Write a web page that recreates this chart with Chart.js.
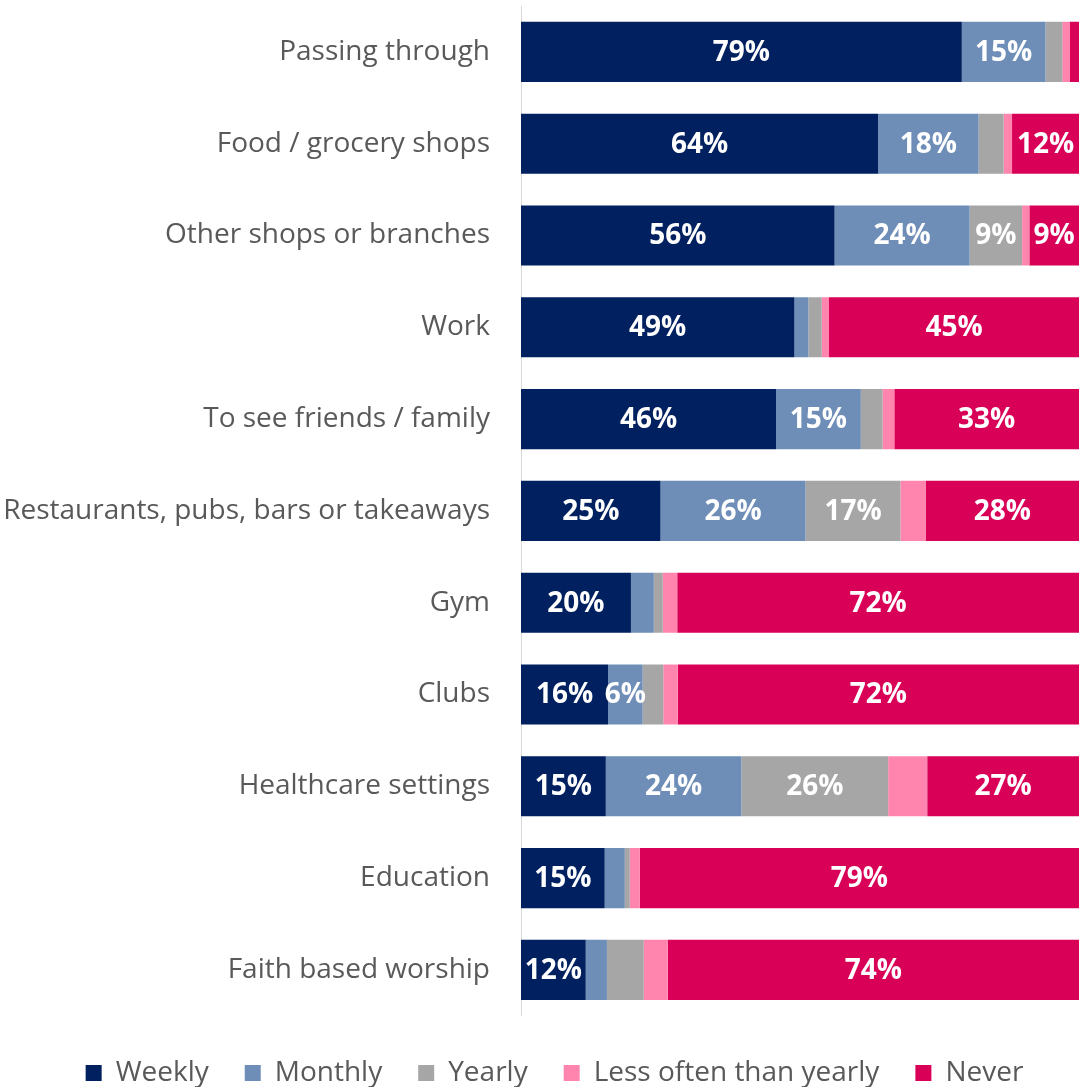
<!DOCTYPE html>
<html>
<head>
<meta charset="utf-8">
<script src="https://cdn.jsdelivr.net/npm/chart.js@4"></script>
<style>
  html, body { margin: 0; padding: 0; background: #fff; }
  canvas { display: block; }
</style>
</head>
<body>
<canvas id="visitChart" width="1081" height="1087"></canvas>
<script>
const categories = [
    'Passing through',
    'Food / grocery shops',
    'Other shops or branches',
    'Work',
    'To see friends / family',
    'Restaurants, pubs, bars or takeaways',
    'Gym',
    'Clubs',
    'Healthcare settings',
    'Education',
    'Faith based worship'
];

// share of respondents (%) per frequency
const weekly     = [79, 64, 56.2, 49, 45.7, 25, 19.7, 15.6, 15.2, 15, 11.6];
const monthly    = [15, 18, 24.2, 2.5, 15.2, 26, 4.1, 6.2, 24.3, 3.6, 3.8];
const yearly     = [3, 4.5, 9.4, 2.4, 3.9, 17, 1.6, 3.7, 26.3, 0.9, 6.6];
const lessOften  = [1.3, 1.5, 1.3, 1.3, 2.1, 4.5, 2.6, 2.6, 7, 1.8, 4.3];
const never      = [1.7, 12, 8.9, 44.8, 33.1, 27.5, 72, 71.9, 27.2, 78.7, 73.7];

const seriesNames = ['Weekly', 'Monthly', 'Yearly', 'Less often than yearly', 'Never'];
const seriesColors = ['#002060', '#6E8EB8', '#A6A6A6', '#FF85AE', '#D80057'];
const seriesValues = [weekly, monthly, yearly, lessOften, never];

// series that get a value printed on their segments
const labelledSeries = [true, true, true, false, true];
// single segments left unlabelled: [series, row]
const unlabelled = [[2, 10]];

const FONT = '"Open Sans", Lato, sans-serif';

// writes the rounded percentage inside segments wide enough to hold it
const segmentLabels = {
    id: 'segmentLabels',
    afterDatasetsDraw(chart) {
        const ctx = chart.ctx;
        ctx.save();
        ctx.font = 'bold 28px ' + FONT;
        ctx.fillStyle = '#ffffff';
        ctx.textAlign = 'center';
        ctx.textBaseline = 'middle';
        chart.data.datasets.forEach((ds, i) => {
            if (!labelledSeries[i]) return;
            chart.getDatasetMeta(i).data.forEach((bar, j) => {
                const v = ds.data[j];
                if (v < 5.5) return;
                if (unlabelled.some(([s, r]) => s === i && r === j)) return;
                const mid = (bar.x + bar.base) / 2;
                ctx.fillText(Math.round(v) + '%', mid, bar.y + 1);
            });
        });
        ctx.restore();
    }
};

// nudges the legend row a bit to the right
const legendShift = {
    id: 'legendShift',
    afterLayout(chart) {
        const lg = chart.legend;
        if (!lg) return;
        lg.left += 15;
        lg.right += 15;
    }
};

new Chart(document.getElementById('visitChart'), {
    type: 'bar',
    data: {
        labels: categories,
        datasets: seriesNames.map((name, i) => ({
            label: name,
            data: seriesValues[i],
            backgroundColor: seriesColors[i],
            borderWidth: 0,
            barPercentage: 0.655,
            categoryPercentage: 1
        }))
    },
    options: {
        indexAxis: 'y',
        responsive: false,
        animation: false,
        devicePixelRatio: 1,
        layout: { padding: { top: 6, right: 2, left: 0, bottom: -10 } },
        scales: {
            x: {
                stacked: true,
                min: 0,
                max: 100,
                display: false
            },
            y: {
                stacked: true,
                grid: { display: false },
                border: { display: true, color: '#D9D9D9', width: 1 },
                ticks: {
                    color: '#595959',
                    padding: 23,
                    font: { family: FONT, size: 28 }
                },
                afterFit(scale) {
                    // fixed label column; tick padding should not push the bars down
                    scale.width = 521;
                    scale.paddingTop = 0;
                    scale.paddingBottom = 0;
                }
            }
        },
        plugins: {
            legend: {
                position: 'bottom',
                // empty title just adds a little room above the items
                title: { display: true, text: '', padding: 0, font: { size: 6 } },
                labels: {
                    color: '#595959',
                    boxWidth: 16,
                    boxHeight: 16,
                    padding: 36,
                    font: { family: FONT, size: 28 }
                }
            },
            tooltip: { enabled: false }
        }
    },
    plugins: [segmentLabels, legendShift]
});
</script>
</body>
</html>
